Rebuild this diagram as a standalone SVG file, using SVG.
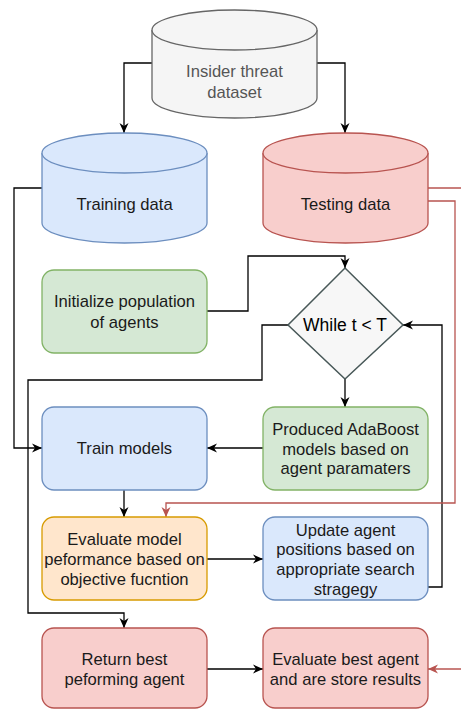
<svg xmlns="http://www.w3.org/2000/svg" width="461" height="709" viewBox="0 0 461 709">
<style>
text{font-family:"Liberation Sans",Arial,sans-serif;font-size:16.6px;fill:#1a1a1a;text-anchor:middle}
.gray{fill:#f5f5f5;stroke:#666666;stroke-width:1.3}
.blue{fill:#dae8fc;stroke:#6c8ebf;stroke-width:1.3}
.red{fill:#f8cecc;stroke:#b85450;stroke-width:1.3}
.green{fill:#d5e8d4;stroke:#82b366;stroke-width:1.3}
.orange{fill:#ffe6cc;stroke:#d79b00;stroke-width:1.3}
.dia{fill:#f7f7f7;stroke:#485858;stroke-width:1.5}
.c{fill:none;stroke:#000;stroke-width:1.3}
.cr{fill:none;stroke:#b85450;stroke-width:1.3}
</style>
<defs>
<marker id="a" markerUnits="userSpaceOnUse" markerWidth="12" markerHeight="10" refX="10" refY="5" orient="auto">
<path d="M0,0.5 L10,5 L0,9.5 L3,5 Z" fill="#000"/>
</marker>
<marker id="ar" markerUnits="userSpaceOnUse" markerWidth="12" markerHeight="10" refX="10" refY="5" orient="auto">
<path d="M0,0.5 L10,5 L0,9.5 L3,5 Z" fill="#b85450"/>
</marker>
</defs>
<g id="connectors">
<path class="c" d="M152,63 H124 V133" marker-end="url(#a)"/>
<path class="c" d="M317,63 H345 V133" marker-end="url(#a)"/>
<path class="c" d="M42,188 H14 V448 H42" marker-end="url(#a)"/>
<path class="c" d="M207,311 H248 V256 H345 V268" marker-end="url(#a)"/>
<path class="c" d="M345,379 V407" marker-end="url(#a)"/>
<path class="c" d="M263,448 H207" marker-end="url(#a)"/>
<path class="c" d="M124,490 V517" marker-end="url(#a)"/>
<path class="c" d="M207,559 H263" marker-end="url(#a)"/>
<path class="c" d="M428,587 H442 V325 H403" marker-end="url(#a)"/>
<path class="c" d="M288,325 H262 V380 H28 V613 H124 V628" marker-end="url(#a)"/>
<path class="c" d="M207,669 H263" marker-end="url(#a)"/>
<path class="cr" d="M428,188 H461"/>
<path class="cr" d="M428,201 H455 V503 H166 V517" marker-end="url(#ar)"/>
<path class="cr" d="M461,669 H428" marker-end="url(#ar)"/>
</g>
<g id="dataset">
<path class="gray" d="M152,30 A82.5,20 0 0 1 317,30 L317,98 A82.5,20 0 0 1 152,98 Z"/>
<path class="gray" fill="none" d="M152,30 A82.5,20 0 0 0 317,30"/>
<text x="234.5" y="77" style="fill:#555">Insider threat</text>
<text x="234.5" y="98" style="fill:#555">dataset</text>
</g>
<g id="training">
<path class="blue" d="M42,153 A82.5,20 0 0 1 207,153 L207,223 A82.5,20 0 0 1 42,223 Z"/>
<path class="blue" fill="none" d="M42,153 A82.5,20 0 0 0 207,153"/>
<text x="124.5" y="210">Training data</text>
</g>
<g id="testing">
<path class="red" d="M263,153 A82.5,20 0 0 1 428,153 L428,223 A82.5,20 0 0 1 263,223 Z"/>
<path class="red" fill="none" d="M263,153 A82.5,20 0 0 0 428,153"/>
<text x="345.5" y="210">Testing data</text>
</g>
<g id="init">
<rect class="green" x="42" y="270" width="165" height="83" rx="12"/>
<text x="124.5" y="307">Initialize population</text>
<text x="124.5" y="328">of agents</text>
</g>
<g id="while">
<path class="dia" d="M345,268 L403,325 L345,379 L288,325 Z"/>
<text x="345" y="331" style="font-size:17.5px;fill:#000">While t &lt; T</text>
</g>
<g id="train">
<rect class="blue" x="42" y="407" width="165" height="83" rx="12"/>
<text x="124.5" y="454">Train models</text>
</g>
<g id="produced">
<rect class="green" x="263" y="407" width="165" height="83" rx="12"/>
<text x="345.5" y="435">Produced AdaBoost</text>
<text x="345.5" y="455">models based on</text>
<text x="345.5" y="474">agent paramaters</text>
</g>
<g id="evaluate">
<rect class="orange" x="42" y="517" width="165" height="83" rx="12"/>
<text x="124.5" y="545">Evaluate model</text>
<text x="124.5" y="565">peformance based on</text>
<text x="124.5" y="585">objective fucntion</text>
</g>
<g id="update">
<rect class="blue" x="263" y="517" width="165" height="83" rx="12"/>
<text x="345.5" y="536">Update agent</text>
<text x="345.5" y="555">positions based on</text>
<text x="345.5" y="575">appropriate search</text>
<text x="345.5" y="595">stragegy</text>
</g>
<g id="return">
<rect class="red" x="42" y="628" width="165" height="80" rx="12"/>
<text x="124.5" y="665">Return best</text>
<text x="124.5" y="685">peforming agent</text>
</g>
<g id="evalbest">
<rect class="red" x="263" y="628" width="165" height="80" rx="12"/>
<text x="345.5" y="665">Evaluate best agent</text>
<text x="345.5" y="685">and are store results</text>
</g>
</svg>
